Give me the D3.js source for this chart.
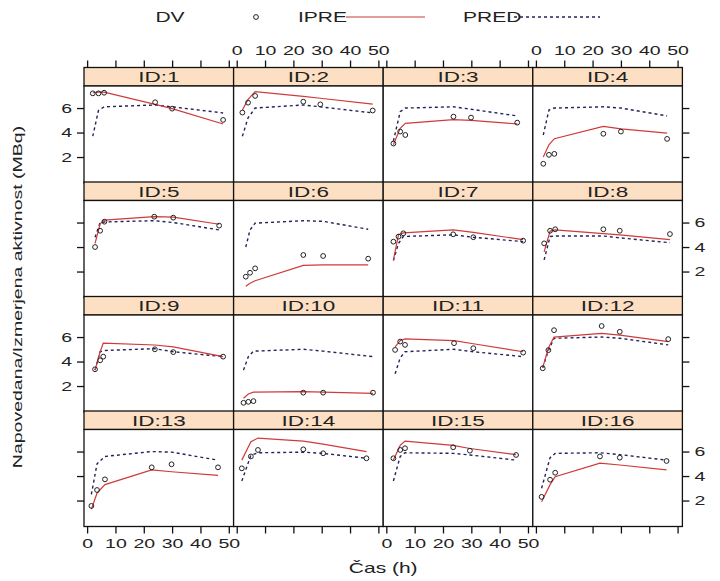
<!doctype html>
<html lang="en">
<head>
<meta charset="utf-8">
<title>DV / IPRE / PRED po ID</title>
<script src="https://d3js.org/d3.v7.min.js"></script>
<style>
	body { margin: 0; background: #fff; }
	svg text { font-family: "Liberation Sans", Arial, sans-serif; fill: #222; }
</style>
</head>
<body>
<svg id="chart" width="720" height="581"></svg>
<script>
// ---- data ----
var panelIds = [1, 2, 3, 4, 5, 6, 7, 8, 9, 10, 11, 12, 13, 14, 15, 16];

var times = [
	[2, 4, 6, 24, 30, 48],
	[2, 4, 6.5, 23.5, 29.5, 48],
	[2.5, 4.9, 6.7, 23.7, 29.9, 46.2],
	[2.6, 4.6, 6.5, 23.8, 30, 46.3],
	[2.8, 4.6, 6.1, 23.7, 30.4, 46.6],
	[3.2, 4.7, 6.5, 23.5, 30.5, 46.4],
	[2.5, 4.3, 6, 23.6, 30.7, 48.3],
	[2.9, 5, 6.8, 23.8, 29.6, 47.3],
	[2.8, 4.6, 5.7, 23.9, 30.4, 48],
	[2.4, 4.1, 5.9, 23.5, 30.5, 48.1],
	[3.1, 4.9, 6.6, 23.9, 30.7, 48.3],
	[2.4, 4.4, 6.4, 23.2, 29.6, 46.7],
	[1.5, 3.5, 6.3, 22.8, 29.8, 46.2],
	[1.8, 5, 7.5, 23.5, 30.5, 45.8],
	[2.5, 4.9, 6.6, 23.6, 29.5, 45.8],
	[2, 5, 6.8, 22.6, 29.6, 46.1]
];

var dv = [
	[7.2, 7.2, 7.25, 6.47, 5.95, 5.03],
	[5.63, 6.44, 6.99, 6.52, 6.3, 5.8],
	[3.1, 4.08, 3.8, 5.3, 5.22, 4.81],
	[1.45, 2.18, 2.26, 3.9, 4.08, 3.48],
	[4.0, 5.33, 6.07, 6.48, 6.4, 5.75],
	[1.58, 1.9, 2.26, 3.35, 3.27, 3.05],
	[4.44, 4.85, 5.12, 5.04, 4.8, 4.52],
	[4.3, 5.33, 5.45, 5.45, 5.33, 5.06],
	[3.37, 4.1, 4.4, 5.0, 4.77, 4.4],
	[0.63, 0.71, 0.77, 1.46, 1.46, 1.46],
	[4.95, 5.63, 5.36, 5.5, 5.09, 4.73],
	[3.45, 4.93, 6.56, 6.9, 6.43, 5.83],
	[1.56, 2.86, 3.73, 4.71, 4.96, 4.71],
	[4.63, 5.6, 6.13, 6.18, 5.86, 5.45],
	[5.45, 6.13, 6.27, 6.35, 6.07, 5.72],
	[2.3, 3.7, 4.27, 5.6, 5.5, 5.23]
];

var ipre = [
	[7.25, 7.3, 7.3, 6.3, 5.95, 4.7],
	[5.84, 6.7, 7.34, 6.95, 6.8, 6.32],
	[3.0, 4.35, 4.75, 5.05, 5.0, 4.7],
	[2.0, 3.0, 3.5, 4.5, 4.3, 3.95],
	[4.3, 5.9, 6.2, 6.48, 6.45, 5.86],
	[0.8, 1.05, 1.25, 2.5, 2.55, 2.55],
	[2.95, 5.0, 5.15, 5.4, 5.2, 4.6],
	[3.6, 5.3, 5.4, 5.1, 5.0, 4.6],
	[3.3, 4.8, 5.5, 5.35, 5.2, 4.4],
	[1.0, 1.35, 1.5, 1.55, 1.5, 1.4],
	[5.2, 5.7, 5.85, 5.7, 5.45, 4.8],
	[3.5, 5.1, 6.0, 6.3, 6.15, 5.63],
	[1.3, 2.6, 3.3, 4.5, 4.35, 4.05],
	[5.3, 6.8, 7.1, 6.85, 6.6, 6.0],
	[5.3, 6.5, 6.85, 6.5, 6.25, 5.75],
	[1.9, 3.3, 3.95, 5.05, 4.9, 4.5]
];

var pred = [
	[3.7, 5.8, 6.1, 6.25, 6.1, 5.6],
	[3.7, 5.2, 6.0, 6.25, 6.1, 5.6],
	[3.3, 5.7, 6.0, 6.1, 5.9, 5.36],
	[3.8, 5.84, 6.0, 6.1, 6.0, 5.36],
	[4.8, 6.0, 6.05, 6.15, 6.0, 5.4],
	[4.0, 5.4, 5.95, 6.15, 6.1, 5.45],
	[2.9, 4.3, 4.86, 5.0, 4.8, 4.44],
	[2.95, 4.86, 4.9, 4.9, 4.75, 4.35],
	[3.3, 4.8, 4.9, 5.05, 4.8, 4.4],
	[3.3, 4.4, 4.85, 5.0, 4.85, 4.4],
	[3.0, 4.3, 4.8, 5.0, 4.8, 4.4],
	[3.5, 4.9, 5.9, 6.0, 5.9, 5.36],
	[2.5, 5.0, 5.6, 6.0, 5.95, 5.3],
	[3.6, 5.7, 5.9, 5.95, 5.85, 5.45],
	[3.6, 5.6, 5.9, 5.85, 5.72, 5.3],
	[3.0, 5.5, 5.85, 5.9, 5.75, 5.3]
];

var xTicks = [0, 10, 20, 30, 40, 50];
var yTicks = [2, 4, 6];

// ---- layout ----
var nCol = 4, nRow = 4;
var left = 84, colW = 149.6;
var top0 = 67.5, stripH = 18.5, panelH = 97, rowPitch = 114.5;
var sx = 1.5; // the original's lettering is drawn very wide

var svg = d3.select('#chart');

var x = d3.scaleLinear().domain([-1.1, 51.7]).range([0, colW]);
var y = d3.scaleLinear().domain([-0.12, 7.8]).range([panelH, 0]);

var redCol = '#d03a3a', predCol = '#23235a';

var line = d3.line()
	.x(function(d) { return x(d[0]); })
	.y(function(d) { return y(d[1]); });

// wide text helper: x/y position, scaled around its own anchor
function wideText(sel, tx, ty, size, anchor, str) {
	return sel.append('text')
		.attr('transform', 'translate(' + tx + ',' + ty + ') scale(' + sx + ',1)')
		.attr('text-anchor', anchor || 'start')
		.attr('font-size', size)
		.text(str);
}

panelIds.forEach(function(id, i) {
	var col = i % nCol, row = Math.floor(i / nCol);
	var gx = left + col * colW;
	var gy = top0 + row * rowPitch;

	var g = svg.append('g').attr('transform', 'translate(' + gx + ',' + gy + ')');

	// strip
	g.append('rect')
		.attr('width', colW).attr('height', stripH)
		.attr('fill', '#fde0c4').attr('stroke', '#111').attr('stroke-width', 1.3);
	wideText(g, colW / 2, stripH / 2 + 5.5, 15, 'middle', 'ID:' + id);

	var p = g.append('g').attr('transform', 'translate(0,' + stripH + ')');

	p.append('rect')
		.attr('width', colW).attr('height', panelH)
		.attr('fill', '#fff');

	var pts = times[i].map(function(t, k) { return [t, dv[i][k]]; });
	var ip = times[i].map(function(t, k) { return [t, ipre[i][k]]; });
	var pr = times[i].map(function(t, k) { return [t, pred[i][k]]; });

	p.append('path').attr('d', line(pr))
		.attr('fill', 'none').attr('stroke', predCol)
		.attr('stroke-width', 1.4).attr('stroke-dasharray', '3,3');

	p.append('path').attr('d', line(ip))
		.attr('fill', 'none').attr('stroke', redCol).attr('stroke-width', 1.2);

	p.selectAll('circle').data(pts).enter().append('circle')
		.attr('cx', function(d) { return x(d[0]); })
		.attr('cy', function(d) { return y(d[1]); })
		.attr('r', 2.4)
		.attr('fill', 'none').attr('stroke', '#222').attr('stroke-width', 1);

	p.append('rect')
		.attr('width', colW).attr('height', panelH)
		.attr('fill', 'none').attr('stroke', '#111').attr('stroke-width', 1.3);

	// ticks on both outer sides, labels alternate like lattice
	if (col === 0) {
		var ax = d3.axisLeft(y).tickValues(yTicks).tickSize(7).tickPadding(5)
			.tickFormat(row % 2 === 0 ? d3.format('d') : '');
		p.append('g').attr('class', 'ax').call(ax);
	}
	if (col === nCol - 1) {
		var ax2 = d3.axisRight(y).tickValues(yTicks).tickSize(7).tickPadding(5)
			.tickFormat(row % 2 === 1 ? d3.format('d') : '');
		p.append('g').attr('class', 'ax').attr('transform', 'translate(' + colW + ',0)').call(ax2);
	}
	if (row === 0) {
		var axT = d3.axisTop(x).tickValues(xTicks).tickSize(7).tickPadding(6)
			.tickFormat(col % 2 === 1 ? d3.format('d') : '');
		g.append('g').attr('class', 'ax').call(axT);
	}
	if (row === nRow - 1) {
		var axB = d3.axisBottom(x).tickValues(xTicks).tickSize(7).tickPadding(5)
			.tickFormat(col % 2 === 0 ? d3.format('d') : '');
		p.append('g').attr('class', 'ax').attr('transform', 'translate(0,' + panelH + ')').call(axB);
	}
});

svg.selectAll('.ax .domain').remove();
svg.selectAll('.ax line').attr('stroke', '#111').attr('stroke-width', 1.3);
svg.selectAll('.ax text')
	.attr('font-size', 13).attr('fill', '#222')
	.attr('x', function() { return (+d3.select(this).attr('x') || 0) / sx; })
	.attr('transform', 'scale(' + sx + ',1)');

// axis titles
var plotTop = top0, plotBot = top0 + 3 * rowPitch + stripH + panelH;
svg.append('text')
	.attr('transform', 'translate(22,' + ((plotTop + plotBot) / 2) + ') rotate(-90) scale(' + sx + ',1)')
	.attr('text-anchor', 'middle').attr('font-size', 13)
	.text('Napovedana/Izmerjena aktivnost (MBq)');
wideText(svg, left + 2 * colW, 573, 14, 'middle', 'Čas (h)');

// key
var key = svg.append('g');
wideText(key, 170, 22, 14, 'middle', 'DV');
key.append('circle').attr('cx', 256).attr('cy', 17).attr('r', 2.4)
	.attr('fill', 'none').attr('stroke', '#222');
wideText(key, 298, 22, 14, 'start', 'IPRE');
key.append('line').attr('x1', 346).attr('x2', 425).attr('y1', 17).attr('y2', 17)
	.attr('stroke', redCol).attr('stroke-width', 1.2);
wideText(key, 463, 22, 14, 'start', 'PRED');
key.append('line').attr('x1', 514).attr('x2', 600).attr('y1', 17).attr('y2', 17)
	.attr('stroke', predCol).attr('stroke-width', 1.4).attr('stroke-dasharray', '3,3');
</script>
</body>
</html>
